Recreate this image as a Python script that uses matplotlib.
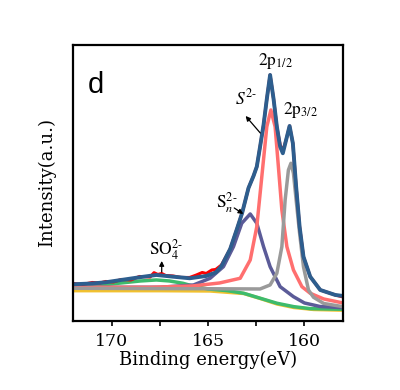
import numpy as np
import matplotlib.pyplot as plt
from matplotlib.ticker import MultipleLocator

# S 2p spectrum (binding energy in eV, intensity in a.u.)
raw_E = [172.0, 171.5, 171.0, 170.6, 170.3, 169.9, 169.5, 169.0, 168.55, 168.0, 167.8, 167.6,
         167.4, 167.2, 166.82, 166.4, 165.95, 165.6, 165.3, 165.09, 164.8, 164.6, 164.3, 163.85,
         163.5, 163.23, 162.9, 162.64, 162.47, 162.3, 162.12, 161.95, 161.78, 161.6, 161.43,
         161.26, 161.12, 160.95, 160.77, 160.6, 160.43, 160.25, 160.05, 159.7, 159.18, 158.4, 158.0]
raw_I = [37.5, 36.5, 38.5, 38.0, 39.5, 39.0, 41.5, 41.0, 44.5, 44.0, 48.3, 46.5,
         47.5, 45.5, 45.0, 43.5, 43.5, 46.0, 48.5, 47.5, 51.0, 51.5, 56.0, 72.0,
         92.0, 108.0, 133.0, 145.0, 154.3, 174.3, 196.0, 222.0, 246.0, 222.0, 194.3,
         176.0, 170.0, 181.0, 195.0, 177.7, 134.3, 94.3, 64.3, 44.3, 31.0, 26.0, 24.0]

# fitted envelope
env_E = [172.0, 171.0, 170.3, 169.5, 168.55, 167.68, 166.82, 165.95, 165.09, 164.6, 164.3,
         163.85, 163.5, 163.23, 162.9, 162.64, 162.47, 162.3, 162.12, 161.95, 161.78, 161.6,
         161.43, 161.26, 161.12, 160.95, 160.77, 160.6, 160.43, 160.25, 160.05, 159.7, 159.18,
         158.4, 158.0]
env_I = [36.7, 37.5, 38.7, 41.0, 43.7, 46.0, 44.3, 42.7, 45.0, 48.5, 55.0,
         72.0, 92.0, 108.0, 133.0, 145.0, 154.3, 174.3, 196.0, 222.0, 246.0, 222.0,
         194.3, 174.3, 167.7, 181.0, 195.0, 177.7, 134.3, 94.3, 64.3, 44.3, 31.0,
         26.0, 25.0]

# S2- 2p1/2 (pink)
s2a_E = [172.0, 168.0, 165.8, 164.4, 163.33, 162.81, 162.47, 162.21, 161.95, 161.74, 161.52,
         161.35, 161.17, 160.91, 160.57, 160.13, 159.7, 159.0, 158.0]
s2a_I = [33.7, 33.7, 35.0, 38.0, 42.7, 61.0, 94.3, 144.3, 194.3, 211.0, 194.3,
         154.3, 111.0, 74.3, 51.0, 34.3, 27.7, 22.0, 18.0]

# S2- 2p3/2 (gray)
s2b_E = [172.0, 166.1, 162.3, 161.78, 161.43, 161.17, 161.0, 160.83, 160.7, 160.57, 160.43,
         160.25, 160.05, 159.79, 159.53, 159.0, 158.0]
s2b_I = [32.7, 32.3, 32.0, 36.0, 47.7, 74.3, 121.0, 151.0, 157.7, 147.7, 121.0,
         87.7, 54.3, 31.0, 23.7, 17.5, 14.3]

# Sn2- (purple)
sn_E = [172.0, 167.5, 165.75, 164.89, 164.2, 163.68, 163.25, 162.81, 162.47, 162.12, 161.78,
        161.26, 160.57, 160.0, 159.2, 158.0]
sn_I = [33.7, 33.7, 36.0, 42.7, 54.3, 74.3, 97.7, 107.0, 97.7, 74.3, 54.3,
        34.3, 24.3, 18.0, 14.5, 13.3]

# SO4 2- (green)
so4_E = [172.0, 170.5, 169.5, 168.5, 167.68, 167.0, 166.3, 165.8, 165.0, 164.0, 163.15,
         162.29, 161.42, 160.55, 159.69, 158.0]
so4_I = [34.5, 36.0, 38.0, 40.0, 41.0, 40.0, 37.7, 35.0, 32.0, 30.3, 27.7,
         22.7, 17.7, 14.3, 12.3, 11.7]

# background (yellow)
bg_E = [172.0, 167.5, 164.9, 163.15, 162.29, 161.42, 160.55, 159.51, 158.0]
bg_I = [30.3, 30.3, 30.0, 27.5, 22.5, 17.0, 13.5, 11.5, 10.8]

plt.rcParams['mathtext.fontset'] = 'stix'

fig = plt.figure(figsize=(4, 3.9), dpi=100)
ax = fig.add_axes([0.1825, 0.177, 0.675, 0.7077])

ax.plot(bg_E, bg_I, color='#f2c12e', lw=2.5)
ax.plot(so4_E, so4_I, color='#3dbb6c', lw=2.5)
ax.plot(sn_E, sn_I, color='#5b5b98', lw=2.5)
ax.plot(s2a_E, s2a_I, color='#ff6f6f', lw=2.5)
ax.plot(s2b_E, s2b_I, color='#9a9a9a', lw=2.5)
ax.plot(raw_E, raw_I, color='#ff0000', lw=2.2)
ax.plot(env_E, env_I, color='#2d5e8e', lw=2.8)

ax.set_xlim(172, 158)
ax.set_ylim(0, 276)
ax.set_yticks([])
ax.xaxis.set_major_locator(MultipleLocator(5))
ax.xaxis.set_minor_locator(MultipleLocator(2.5))
ax.tick_params(axis='x', which='both', direction='out', length=3.5, width=1.2,
               labelsize=12.5, pad=5)
for lab in ax.get_xticklabels():
    lab.set_family('DejaVu Serif')
for s in ax.spines.values():
    s.set_linewidth(1.6)

ax.set_xlabel('Binding energy(eV)', family='DejaVu Serif', fontsize=13, labelpad=1)
ax.set_ylabel('Intensity(a.u.)', family='DejaVu Serif', fontsize=13, labelpad=12)

ax.text(0.056, 0.826, 'd', transform=ax.transAxes, family='Liberation Sans',
        fontsize=21, ha='left', va='baseline')

ax.text(161.52, 260, r'$\mathrm{2p}_{1/2}$', fontsize=12.5, ha='center', va='center')
ax.text(160.22, 211, r'$\mathrm{2p}_{3/2}$', fontsize=12.5, ha='center', va='center')
ax.text(163.01, 223, r'$S^{2\text{-}}$', fontsize=12.5, ha='center', va='center')
ax.text(164.05, 118, r'$\mathrm{S}_{n}^{2\text{-}}$', fontsize=12.5, ha='center', va='center')
ax.text(167.18, 71, r'$\mathrm{SO}_{4}^{2\text{-}}$', fontsize=12.5, ha='center', va='center')

arrow = dict(arrowstyle='-|>', color='black', lw=0.9, mutation_scale=7,
             shrinkA=0, shrinkB=0)
ax.annotate('', xy=(163.05, 205), xytext=(162.29, 188), arrowprops=arrow)
ax.annotate('', xy=(163.17, 107), xytext=(163.64, 113), arrowprops=arrow)
ax.annotate('', xy=(167.4, 60), xytext=(167.4, 49), arrowprops=arrow)

plt.savefig('out.png')
